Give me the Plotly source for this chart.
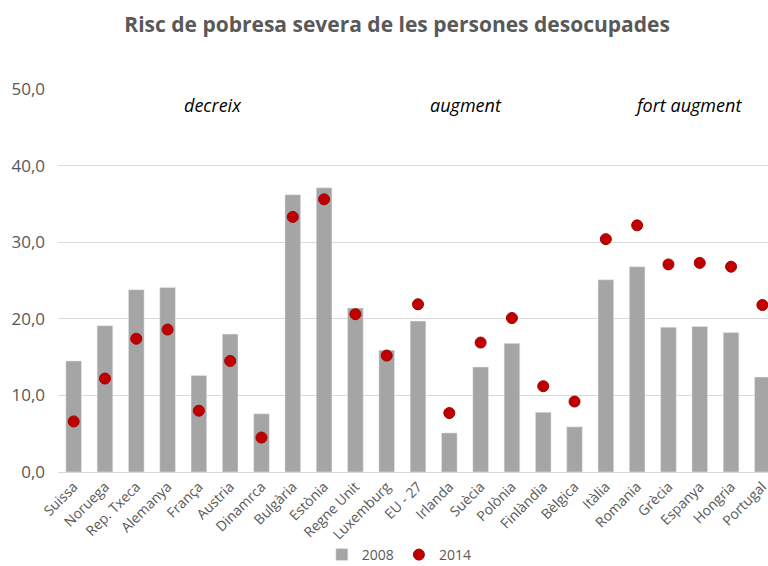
import plotly.graph_objects as go

categories = ["Suissa", "Noruega", "Rep. Txeca", "Alemanya", "França", "Austria", "Dinamrca",
              "Bulgària", "Estònia", "Regne Unit", "Luxemburg", "EU - 27", "Irlanda", "Suècia",
              "Polònia", "Finlàndia", "Bèlgica", "Itàlia", "Romania", "Grècia", "Espanya",
              "Hongria", "Portugal"]
values_2008 = [14.5, 19.1, 23.8, 24.1, 12.6, 18.0, 7.6, 36.2, 37.1, 21.4, 15.9, 19.7, 5.1, 13.7,
               16.8, 7.8, 5.9, 25.1, 26.8, 18.9, 19.0, 18.2, 12.4]
values_2014 = [6.6, 12.2, 17.4, 18.6, 8.0, 14.5, 4.5, 33.3, 35.6, 20.6, 15.2, 21.9, 7.7, 16.9,
               20.1, 11.2, 9.2, 30.4, 32.2, 27.1, 27.3, 26.8, 21.8]
y_ticks = [0, 10, 20, 30, 40, 50]
group_labels = ["decreix", "augment", "fort augment"]
group_pos = [4.44, 12.53, 19.62]

font = "Open Sans, Lato, sans-serif"
gray_text = "#595959"

fig = go.Figure()
fig.add_trace(go.Bar(x=list(range(len(categories))), y=values_2008, name="2008",
                     marker_color="#a5a5a5", width=0.5))
fig.add_trace(go.Scatter(x=list(range(len(categories))), y=values_2014, name="2014",
                         mode="markers",
                         marker=dict(color="#c00000", size=11,
                                     line=dict(color="#a00000", width=1))))

for lab, pos in zip(group_labels, group_pos):
    fig.add_annotation(x=pos, y=47.9, xref="x", yref="y", text="<i>" + lab + "</i>",
                       showarrow=False, font=dict(family=font, size=18, color="#000000"))

fig.update_layout(
    width=768, height=566,
    margin=dict(l=58, r=0, t=89, b=94, autoexpand=False),
    paper_bgcolor="white", plot_bgcolor="white",
    title=dict(text="<b>Risc de pobresa severa de les persones desocupades</b>",
               x=0.517, xref="container", xanchor="center",
               y=1 - 25 / 566, yref="container", yanchor="middle",
               font=dict(family=font, size=21, color=gray_text)),
    separators=", ",
    showlegend=True,
    legend=dict(orientation="h", xref="container", x=0.52, xanchor="center",
                yref="container", y=1 - 555 / 566, yanchor="middle",
                font=dict(family=font, size=14, color=gray_text),
                itemwidth=30, traceorder="normal"),
)
fig.update_xaxes(tickmode="array", tickvals=list(range(len(categories))), ticktext=categories,
                 range=[-0.5, 22.18], tickangle=-45, ticklabeloverflow="allow",
                 tickfont=dict(family=font, size=14, color=gray_text),
                 showgrid=False, showline=True, linecolor="#d9d9d9", ticks="", zeroline=False)
fig.update_yaxes(range=[0, 50], tickmode="array", tickvals=y_ticks, tickformat=".1f",
                 tickfont=dict(family=font, size=17, color=gray_text),
                 showgrid=True, gridcolor="#d9d9d9", gridwidth=1, zeroline=False,
                 showline=False, ticks="", ticklabelstandoff=12)

fig.write_html("out.html", config={"displayModeBar": False},
               post_script="document.body.style.margin='0';")
